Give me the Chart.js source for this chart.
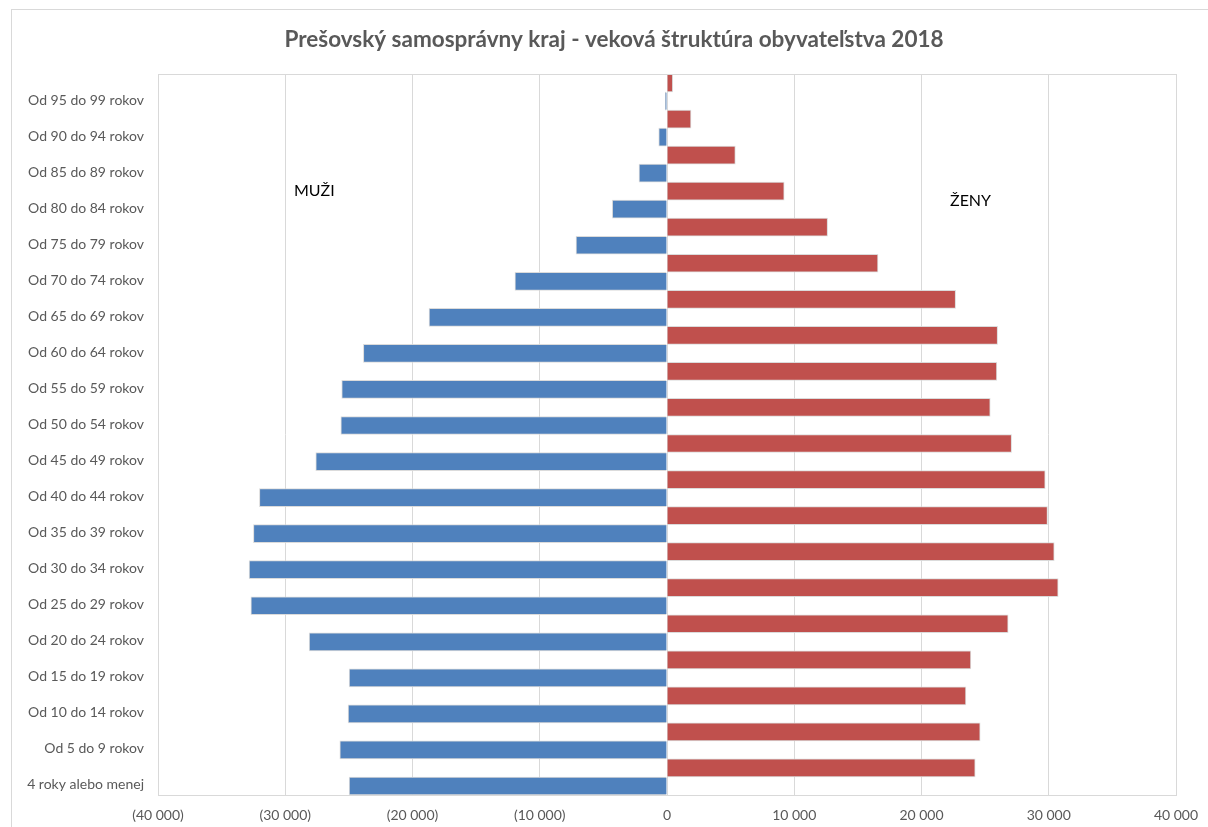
<!DOCTYPE html>
<html>
<head>
<meta charset="utf-8">
<script src="https://cdn.jsdelivr.net/npm/chart.js@4"></script>
<style>
  html, body { margin: 0; padding: 0; background: #fff; }
  #wrap { width: 1208px; height: 827px; }
</style>
</head>
<body>
<div id="wrap"><canvas id="chart" width="1208" height="827"></canvas></div>
<script>
// age groups, top to bottom as in the picture
const ageGroups = [
  "Od 95 do 99 rokov", "Od 90 do 94 rokov", "Od 85 do 89 rokov", "Od 80 do 84 rokov",
  "Od 75 do 79 rokov", "Od 70 do 74 rokov", "Od 65 do 69 rokov", "Od 60 do 64 rokov",
  "Od 55 do 59 rokov", "Od 50 do 54 rokov", "Od 45 do 49 rokov", "Od 40 do 44 rokov",
  "Od 35 do 39 rokov", "Od 30 do 34 rokov", "Od 25 do 29 rokov", "Od 20 do 24 rokov",
  "Od 15 do 19 rokov", "Od 10 do 14 rokov", "Od 5 do 9 rokov", "4 roky alebo menej"
];

// men are plotted as negative numbers
const muzi = [
  -130, -650, -2200, -4300, -7150, -11950, -18700, -23860, -25560, -25630,
  -27600, -32030, -32500, -32840, -32700, -28120, -24980, -25060, -25710, -24980
];

const zeny = [
  450, 1885, 5370, 9210, 12620, 16580, 22680, 25980, 25920, 25400,
  27080, 29720, 29900, 30430, 30740, 26810, 23880, 23490, 24610, 24220
];

const xMin = -40000;
const xMax = 40000;
const xStep = 10000;

const titleText = "Prešovský samosprávny kraj - veková štruktúra obyvateľstva 2018";
const labelMen = "MUŽI";
const labelWomen = "ŽENY";

const FONT = "Lato, 'Open Sans', sans-serif";
const gray = "#595959";

function fmt(v) {
  const s = Math.abs(v).toString().replace(/\B(?=(\d{3})+(?!\d))/g, "\u00a0");
  return v < 0 ? "(" + s + ")" : s;
}

const framePlugin = {
  id: "frame",
  beforeDraw(chart) {
    const ctx = chart.ctx;
    ctx.save();
    ctx.strokeStyle = "#d9d9d9";
    ctx.lineWidth = 1;
    ctx.strokeRect(11.5, 9.5, 1400, 1000);
    // title, centred on the chart frame like in Excel
    ctx.fillStyle = gray;
    ctx.font = "bold 22.5px " + FONT;
    ctx.textAlign = "center";
    ctx.textBaseline = "middle";
    ctx.fillText(titleText, 614, 40);
    ctx.restore();
  },
  afterDatasetsDraw(chart) {
    const { ctx, chartArea: a } = chart;
    ctx.save();
    ctx.strokeStyle = "#d9d9d9";
    ctx.lineWidth = 1;
    ctx.strokeRect(Math.round(a.left) + 0.5, Math.round(a.top) + 0.5,
      Math.round(a.right - a.left), Math.round(a.bottom - a.top));
    ctx.fillStyle = "#000";
    ctx.font = "16px " + FONT;
    ctx.textBaseline = "middle";
    ctx.textAlign = "left";
    ctx.fillText(labelMen, 294, 191);
    ctx.fillText(labelWomen, 950, 201);
    ctx.restore();
  }
};

new Chart(document.getElementById("chart"), {
  type: "bar",
  data: {
    labels: ageGroups,
    datasets: [
      {
        label: "Ženy",
        data: zeny,
        backgroundColor: "#C0504D",
        borderColor: "rgba(215,215,215,0.9)",
        borderWidth: 1,
        categoryPercentage: 1,
        barPercentage: 1
      },
      {
        label: "Muži",
        data: muzi,
        backgroundColor: "#4F81BD",
        borderColor: "rgba(215,215,215,0.9)",
        borderWidth: 1,
        categoryPercentage: 1,
        barPercentage: 1
      }
    ]
  },
  options: {
    indexAxis: "y",
    responsive: false,
    animation: false,
    layout: { padding: { left: 0, right: 32, top: 74, bottom: 0 } },
    plugins: {
      legend: { display: false },
      tooltip: { enabled: false },
      title: { display: false }
    },
    scales: {
      x: {
        min: xMin,
        max: xMax,
        ticks: {
          stepSize: xStep,
          color: gray,
          font: { family: FONT, size: 14 },
          padding: 12,
          maxRotation: 0,
          callback: (v) => fmt(v)
        },
        grid: { color: "#d9d9d9", drawTicks: false },
        border: { display: false },
        afterFit(scale) {
          scale.height = 32;
          scale.paddingLeft = 0;
          scale.paddingRight = 0;
        }
      },
      y: {
        ticks: {
          color: gray,
          font: { family: FONT, size: 14 },
          padding: 14,
          labelOffset: 8,
          autoSkip: false
        },
        grid: { display: false, drawTicks: false },
        border: { display: false },
        afterFit(scale) { scale.width = 158; }
      }
    }
  },
  plugins: [framePlugin]
});
</script>
</body>
</html>
